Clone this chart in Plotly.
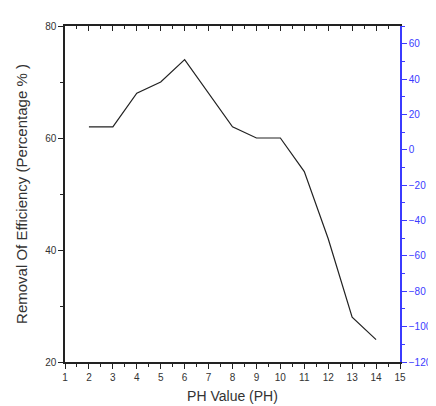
import plotly.graph_objects as go

ph = [2, 3, 4, 5, 6, 7, 8, 9, 10, 11, 12, 13, 14]
efficiency = [62, 62, 68, 70, 74, 68, 62, 60, 60, 54, 42, 28, 24]
x_ticks = list(range(1, 16))
left_ticks = [20, 40, 60, 80]
right_ticks = [-120, -100, -80, -60, -40, -20, 0, 20, 40, 60]

FONT = "Liberation Sans, Arial, sans-serif"
BLUE = "#3b3bff"
GREY = "#333333"

fig = go.Figure()
fig.add_trace(go.Scatter(x=ph, y=efficiency, mode="lines",
                         line=dict(color="#222222", width=1.2),
                         showlegend=False, hoverinfo="skip"))
fig.add_trace(go.Scatter(x=[None], y=[None], yaxis="y2", showlegend=False))
fig.add_trace(go.Scatter(x=[None], y=[None], xaxis="x2", showlegend=False))

fig.update_layout(
    width=436, height=406,
    margin=dict(l=57, r=27, t=17, b=52),
    paper_bgcolor="white", plot_bgcolor="white",
    font=dict(family=FONT, color=GREY),
    xaxis=dict(range=[1, 15], tickvals=x_ticks, ticks="outside", ticklen=5,
               tickwidth=1.2, tickcolor="#222", showline=True, linecolor="#222",
               linewidth=1.5, showgrid=False, zeroline=False,
               tickfont=dict(size=10, color=GREY),
               minor=dict(dtick=0.5, ticks="outside", ticklen=3, tickcolor="#222"),
               title=dict(text="PH Value (PH)", font=dict(size=14, color=GREY), standoff=9)),
    xaxis2=dict(range=[1, 15], overlaying="x", side="top", tickvals=x_ticks,
                ticks="inside", ticklen=5, tickwidth=1.2, tickcolor="#222",
                showline=True, linecolor="#222", linewidth=1.5,
                showticklabels=False, showgrid=False, zeroline=False,
                minor=dict(dtick=0.5, ticks="inside", ticklen=3, tickcolor="#222")),
    yaxis=dict(range=[20, 80], tickvals=left_ticks, ticks="outside", ticklen=5,
               tickwidth=1.2, tickcolor="#222", showline=True, linecolor="#222",
               linewidth=1.5, showgrid=False, zeroline=False,
               tickfont=dict(size=10, color=GREY),
               minor=dict(dtick=10, ticks="outside", ticklen=3, tickcolor="#222"),
               title=dict(text="Removal Of Efficiency (Percentage % )",
                          font=dict(size=15, color=GREY), standoff=14)),
    yaxis2=dict(range=[-120, 70], overlaying="y", side="right", tickvals=right_ticks,
                ticks="outside", ticklen=5, tickwidth=1.2, tickcolor=BLUE,
                showline=True, linecolor=BLUE, linewidth=1.5, showgrid=False,
                zeroline=False, tickfont=dict(size=10, color=BLUE),
                minor=dict(dtick=10, ticks="outside", ticklen=3, tickcolor=BLUE)),
)

fig.write_html("out.html")
